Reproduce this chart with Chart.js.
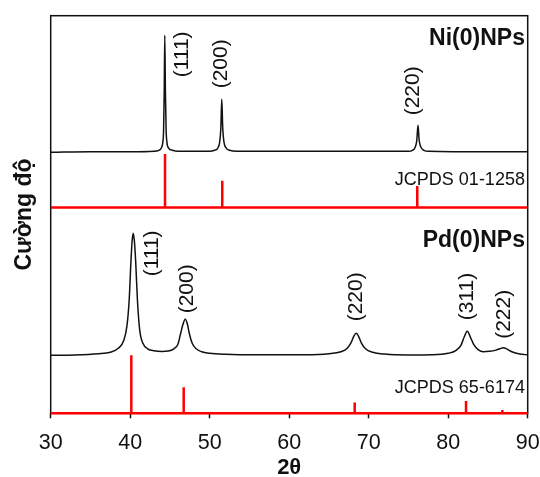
<!DOCTYPE html>
<html>
<head>
<meta charset="utf-8">
<script src="https://cdn.jsdelivr.net/npm/chart.js@4.4.1/dist/chart.umd.min.js"></script>
<style>
  html, body { margin: 0; padding: 0; background: #fff; }
  canvas { display: block; }
</style>
</head>
<body>
<canvas id="xrdChart" width="540" height="477"></canvas>
<script>
// 2theta tick values
const xTickValues = [30, 40, 50, 60, 70, 80, 90];

// Ni(0)NPs pattern: [2theta, intensity above its baseline]
const niPattern = [
  [30, 0], [35, 0.5], [40, 0.5], [43.0, 1], [43.6, 2], [43.9, 4], [44.1, 10], [44.2, 22],
  [44.28, 60], [44.35, 117], [44.43, 60], [44.52, 22], [44.62, 10], [44.85, 4], [45.3, 2],
  [46, 1], [50, 1], [50.6, 2], [51.0, 4], [51.25, 10], [51.4, 24], [51.52, 53], [51.64, 24],
  [51.8, 10], [52.1, 4], [52.5, 2], [53.5, 1], [75, 1], [75.5, 2], [75.85, 5], [76.05, 12],
  [76.2, 27], [76.35, 12], [76.58, 5], [76.95, 2], [77.5, 1], [85, 0.5], [90, 0.5]
];

// Pd(0)NPs pattern
const pdPattern = [
  [30, 0], [33, 0.3], [36, 1.5], [37.5, 3], [38.5, 7], [39.2, 15], [39.6, 30], [39.87, 55],
  [40.1, 95], [40.25, 115], [40.39, 122], [40.55, 112], [40.7, 92], [40.91, 55], [41.2, 25],
  [41.6, 12], [42.2, 6.5], [43.0, 4.5], [44.0, 3.8], [44.8, 4.2], [45.5, 6.5], [46.0, 11],
  [46.35, 22], [46.6, 30], [46.93, 36], [47.2, 31], [47.43, 22], [47.8, 12], [48.3, 6.5],
  [49, 3.5], [50, 2], [52, 1], [56, 0.5], [62, 0.5], [65, 1.5], [66.5, 3.5], [67.3, 7],
  [67.8, 13], [68.15, 19.5], [68.45, 22], [68.75, 18.5], [69.1, 12], [69.6, 6.5], [70.5, 3],
  [72, 1.2], [75, 0.3], [78, 0.5], [80, 2], [81, 5], [81.6, 10], [82.0, 18], [82.4, 24],
  [82.8, 18], [83.2, 11], [83.8, 5.5], [84.4, 3.6], [85.2, 4], [86.0, 5.2], [86.5, 6.6],
  [86.95, 7.6], [87.4, 6.2], [88, 3.5], [89, 1.2], [90, 0.5]
];

// reference sticks
const niRefAngles = [44.38, 51.58, 76.11];
const niRefHeights = [53.5, 26.8, 21.5];
const pdRefAngles = [40.14, 46.73, 68.24, 82.24, 86.81];
const pdRefHeights = [58, 26, 10.8, 12.3, 3.3];

const niPeakLabels = ['(111)', '(200)', '(220)'];
const pdPeakLabels = ['(111)', '(200)', '(220)', '(311)', '(222)'];

// stacking offsets of each panel (y units)
const pdRefBase = 0;
const pdBase = 58;
const niRefBase = 205.8;
const niBase = 261;

function shift(points, base) {
  return points.map(p => ({ x: p[0], y: p[1] + base }));
}

function sticks(angles, heights, base) {
  const out = [{ x: 30, y: base }, { x: 90, y: base }, { x: 90, y: null }];
  angles.forEach((a, i) => {
    out.push({ x: a, y: base }, { x: a, y: base + heights[i] }, { x: a, y: null });
  });
  return out;
}

// label anchors: [2theta, y at text start]
const niLabelPos = [[46.48, 336], [51.42, 325], [75.57, 298]];
const pdLabelPos = [[42.75, 137], [47.2, 100], [68.45, 92], [82.44, 93], [86.99, 74.5]];

const framePlugin = {
  id: 'frame',
  beforeDatasetsDraw(chart) {
    const { ctx, chartArea: a } = chart;
    ctx.save();
    ctx.strokeStyle = '#111';
    ctx.lineWidth = 1.5;
    ctx.strokeRect(a.left, a.top, a.right - a.left, a.bottom - a.top);
    ctx.restore();
  }
};

const textPlugin = {
  id: 'texts',
  afterDatasetsDraw(chart) {
    const { ctx, scales: { x, y } } = chart;
    ctx.save();
    ctx.fillStyle = '#111';
    ctx.font = "21px 'Liberation Sans', Arial, sans-serif";
    const drawRot = (labels, pos) => {
      labels.forEach((t, i) => {
        ctx.save();
        ctx.translate(x.getPixelForValue(pos[i][0]), y.getPixelForValue(pos[i][1]));
        ctx.rotate(-Math.PI / 2);
        ctx.textAlign = 'left';
        ctx.textBaseline = 'middle';
        ctx.fillText(t, 0, 0);
        ctx.restore();
      });
    };
    drawRot(niPeakLabels, niLabelPos);
    drawRot(pdPeakLabels, pdLabelPos);

    ctx.textAlign = 'right';
    ctx.textBaseline = 'alphabetic';
    const xr = x.getPixelForValue(89.65);
    ctx.font = "bold 23px 'Liberation Sans', Arial, sans-serif";
    ctx.fillText('Ni(0)NPs', xr, y.getPixelForValue(368));
    ctx.fillText('Pd(0)NPs', xr, y.getPixelForValue(166.4));
    ctx.font = "18px 'Liberation Sans', Arial, sans-serif";
    ctx.fillText('JCPDS 01-1258', xr, y.getPixelForValue(228.3));
    ctx.fillText('JCPDS 65-6174', xr, y.getPixelForValue(20));
    ctx.restore();
  }
};

Chart.defaults.font.family = "'Liberation Sans', Arial, sans-serif";
Chart.defaults.color = '#111';

const ctx = document.getElementById('xrdChart').getContext('2d');
const xrdChart = new Chart(ctx, {
  type: 'scatter',
  data: {
    datasets: [
      {
        label: 'Ni(0)NPs',
        data: shift(niPattern, niBase),
        showLine: true,
        borderColor: '#111',
        borderWidth: 1.5,
        pointRadius: 0,
        cubicInterpolationMode: 'monotone'
      },
      {
        label: 'JCPDS 01-1258',
        data: sticks(niRefAngles, niRefHeights, niRefBase),
        showLine: true,
        borderColor: '#ff0000',
        borderWidth: 2.5,
        pointRadius: 0,
        spanGaps: false
      },
      {
        label: 'Pd(0)NPs',
        data: shift(pdPattern, pdBase),
        showLine: true,
        borderColor: '#111',
        borderWidth: 1.5,
        pointRadius: 0,
        cubicInterpolationMode: 'monotone'
      },
      {
        label: 'JCPDS 65-6174',
        data: sticks(pdRefAngles, pdRefHeights, pdRefBase),
        showLine: true,
        borderColor: '#ff0000',
        borderWidth: 2.5,
        pointRadius: 0,
        spanGaps: false,
        clip: 4
      }
    ]
  },
  options: {
    responsive: false,
    devicePixelRatio: 1,
    animation: false,
    layout: { padding: { left: 0, top: 15.7, right: 12.3, bottom: 0 } },
    plugins: {
      legend: { display: false },
      tooltip: { enabled: false }
    },
    scales: {
      x: {
        type: 'linear',
        min: 30,
        max: 90,
        afterBuildTicks: axis => { axis.ticks = xTickValues.map(v => ({ value: v })); },
        afterFit: axis => {
          // fixed axis band so the plot box matches the original
          axis.height = 63.7;
          axis.paddingLeft = 0;
          axis.paddingRight = 0;
        },
        ticks: { font: { size: 21.5 }, color: '#111', padding: 12, maxRotation: 0 },
        grid: { display: true, drawOnChartArea: false, drawTicks: true, tickLength: 5, tickWidth: 1.5, tickColor: '#111' },
        border: { display: false },
        title: {
          display: true,
          text: '2θ',
          color: '#111',
          font: { size: 22, weight: 'bold', lineHeight: 1 },
          padding: { top: 2.5, bottom: -1.5 }
        }
      },
      y: {
        type: 'linear',
        min: 0,
        max: 397.6,
        ticks: { display: false },
        grid: { display: false, drawTicks: false },
        border: { display: false },
        title: {
          display: true,
          text: 'Cường độ',
          color: '#111',
          font: { size: 23, weight: 'bold' },
          padding: { top: 11, bottom: 12.1 }
        }
      }
    }
  },
  plugins: [framePlugin, textPlugin]
});
</script>
</body>
</html>
